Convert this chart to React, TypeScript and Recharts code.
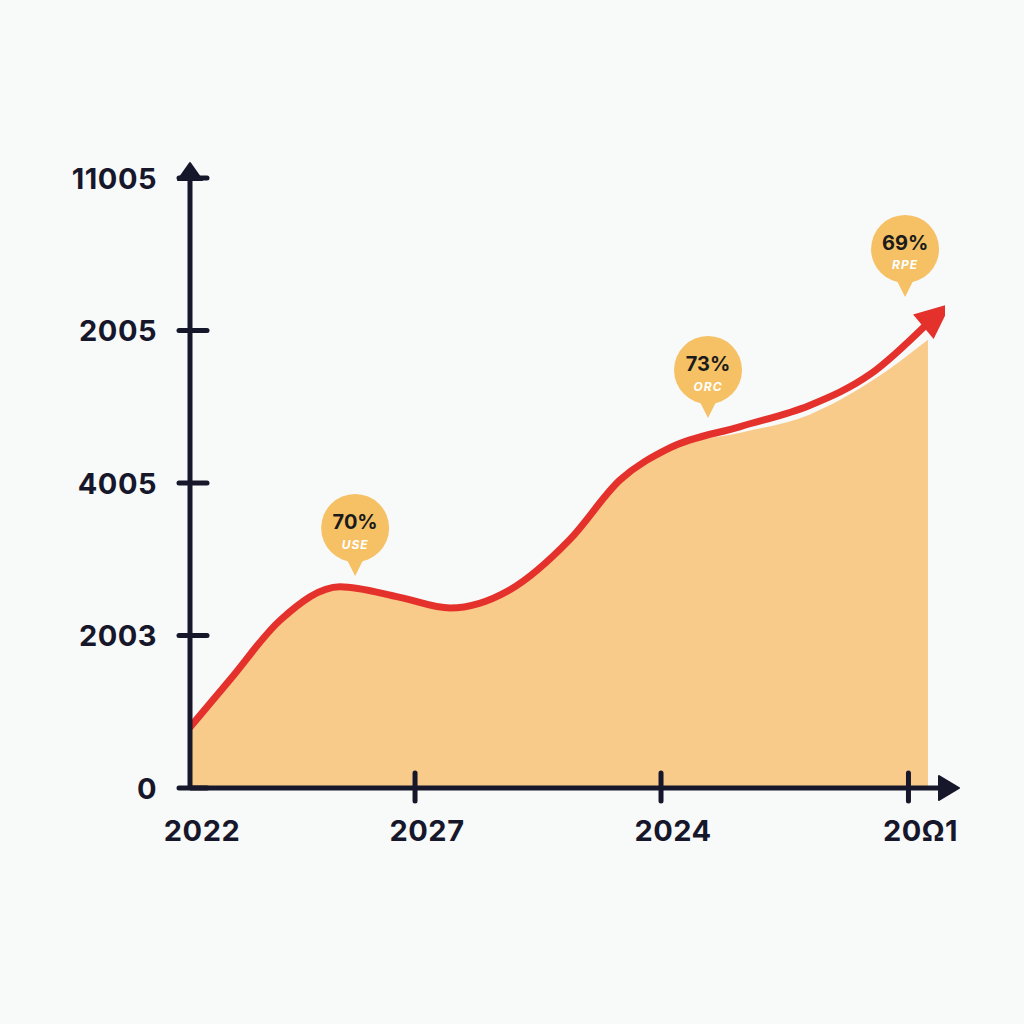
import { ComposedChart, Area, Line, XAxis, YAxis, ReferenceDot } from "recharts";

// x positions are in "axis units", one unit per year gap
const xTicks = [0, 0.924, 1.934, 2.95];
const xLabels = ["2022", "2027", "2024", "20Ω1"];

const yTicks = [0, 1, 2, 3, 4];
const yLabels = ["0", "2003", "4005", "2005", "11005"];

const lineX = [-0.02, 0.164, 0.37, 0.616, 0.862, 1.068, 1.314, 1.56, 1.766, 1.97, 2.26, 2.546, 2.79, 3.03];
const lineY = [0.36, 0.71, 1.1, 1.32, 1.25, 1.18, 1.3, 1.63, 2.02, 2.23, 2.37, 2.51, 2.71, 3.05];

const areaX = [-0.02, 0.164, 0.37, 0.616, 0.862, 1.068, 1.314, 1.56, 1.766, 1.97, 2.26, 2.546, 2.79, 3.03];
const areaY = [0.36, 0.71, 1.1, 1.32, 1.25, 1.18, 1.3, 1.63, 2.02, 2.23, 2.33, 2.45, 2.66, 2.94];

const calloutX = [0.678, 2.127, 2.936];
const calloutY = [1.39, 2.426, 3.22];
const calloutPct = ["70%", "73%", "69%"];
const calloutSub = ["USE", "ORC", "RPE"];

const lineData = lineX.map((x, i) => ({ x, v: lineY[i] }));
const areaData = areaX.map((x, i) => ({ x, v: areaY[i] }));

const AXIS = "#17172b";
const FONT = "Inter, 'DejaVu Sans', sans-serif";

const YTick = (props: any) => {
  const { x, y, index } = props;
  const ax = x + 10; // axis line position
  return (
    <g>
      <line x1={ax - 13} x2={ax + 15} y1={y} y2={y} stroke={AXIS} strokeWidth={5} strokeLinecap="round" />
      <text x={ax - 35} y={y} textAnchor="end" dominantBaseline="central" fontSize={29} fontWeight={700} letterSpacing={0.5} fill={AXIS} fontFamily={FONT}>
        {yLabels[index]}
      </text>
    </g>
  );
};

const XTick = (props: any) => {
  const { x, y, index } = props;
  const ay = y - 10;
  return (
    <g>
      {index > 0 && (
        <line x1={x} x2={x} y1={ay - 13} y2={ay + 15} stroke={AXIS} strokeWidth={5} strokeLinecap="round" />
      )}
      <text x={x + 12} y={ay + 44} textAnchor="middle" dominantBaseline="central" fontSize={29} fontWeight={700} letterSpacing={0.5} fill={AXIS} fontFamily={FONT}>
        {xLabels[index]}
      </text>
    </g>
  );
};

const Callout = (props: any) => {
  const { cx, cy, pct, sub } = props;
  const r = 34;
  const c = cy - 48;
  return (
    <g>
      <path d={`M ${cx - 9} ${c + 30} L ${cx} ${cy} L ${cx + 9} ${c + 30} Z`} fill="#F5C164" />
      <circle cx={cx} cy={c} r={r} fill="#F5C164" />
      <text x={cx} y={c - 6} textAnchor="middle" dominantBaseline="central" fontSize={20} fontWeight={700} fill="#1b1b1b" fontFamily={FONT}>
        {pct}
      </text>
      <text x={cx} y={c + 16} textAnchor="middle" dominantBaseline="central" fontSize={12} fontWeight={700} fontStyle="italic" letterSpacing={1} fill="#ffffff" fontFamily={FONT}>
        {sub}
      </text>
    </g>
  );
};

const YArrow = (props: any) => {
  const { cx, cy } = props;
  return <path d={`M ${cx - 12} ${cy + 2} L ${cx} ${cy - 15} L ${cx + 12} ${cy + 2} Z`} fill={AXIS} stroke={AXIS} strokeWidth={2} strokeLinejoin="round" />;
};

const XArrow = (props: any) => {
  const { cx, cy } = props;
  return <path d={`M ${cx - 6} ${cy - 12} L ${cx + 14} ${cy} L ${cx - 6} ${cy + 12} Z`} fill={AXIS} stroke={AXIS} strokeWidth={2} strokeLinejoin="round" />;
};

const LineEnd = (props: any) => {
  const { cx, cy, index } = props;
  if (index !== lineData.length - 1) return <g key={`d${index}`} />;
  return (
    <g key={`d${index}`} transform={`translate(${cx},${cy}) rotate(-40)`}>
      <path d="M 30 0 L -6 -16 L -6 16 Z" fill="#E4312C" />
    </g>
  );
};

export default function App() {
  return (
    <div style={{ position: "absolute", left: 0, top: 0, width: 1024, height: 1024, background: "#F8F9F9" }}>
      <ComposedChart width={1024} height={1024} margin={{ top: 178, right: 79, bottom: 176, left: 70 }}>
        <XAxis
          dataKey="x"
          type="number"
          domain={[0, 3.1]}
          ticks={xTicks}
          allowDataOverflow
          axisLine={{ stroke: AXIS, strokeWidth: 5 }}
          tickLine={false}
          tick={<XTick />}
          height={60}
          interval={0}
        />
        <YAxis
          type="number"
          domain={[0, 4]}
          ticks={yTicks}
          axisLine={{ stroke: AXIS, strokeWidth: 5 }}
          tickLine={false}
          tick={<YTick />}
          width={120}
          interval={0}
        />
        <Area data={areaData} dataKey="v" type="monotone" stroke="none" fill="#F9CB8B" fillOpacity={1} isAnimationActive={false} />
        <Line data={lineData} dataKey="v" type="monotone" stroke="#E4312C" strokeWidth={7} strokeLinecap="round" dot={LineEnd} activeDot={false} isAnimationActive={false} />
        <ReferenceDot x={0} y={4} ifOverflow="visible" shape={<YArrow />} />
        <ReferenceDot x={3.1} y={0} ifOverflow="visible" shape={<XArrow />} />
        {calloutX.map((x, i) => (
          <ReferenceDot key={i} x={x} y={calloutY[i]} ifOverflow="visible" shape={<Callout pct={calloutPct[i]} sub={calloutSub[i]} />} />
        ))}
      </ComposedChart>
    </div>
  );
}
